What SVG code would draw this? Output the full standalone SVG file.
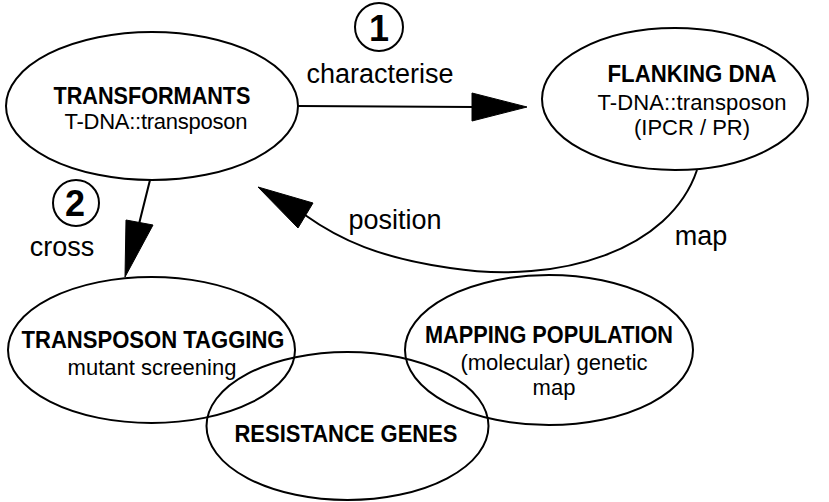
<svg xmlns="http://www.w3.org/2000/svg" width="829" height="502" viewBox="0 0 829 502">
<style>
  .shape { fill: none; stroke: #000; stroke-width: 2; }
  .line { fill: none; stroke: #000; stroke-width: 2; }
  .head { fill: #000; stroke: #000; stroke-width: 1; stroke-linejoin: miter; }
  .title { font-family: "Liberation Sans", Arial, sans-serif; font-weight: bold; font-size: 23px; text-anchor: middle; fill: #000; }
  .sub { font-family: "Liberation Sans", Arial, sans-serif; font-size: 22px; text-anchor: middle; fill: #000; }
  .edge { font-family: "Liberation Sans", Arial, sans-serif; font-size: 27px; text-anchor: middle; fill: #000; }
  .num { font-family: "Liberation Sans", Arial, sans-serif; font-weight: bold; font-size: 36px; text-anchor: middle; fill: #000; }
</style>
<rect width="829" height="502" fill="#fff"/>

<g id="connectors">
  <g id="edge-characterise">
    <line class="line" x1="298" y1="106" x2="474" y2="107"/>
    <polygon class="head" points="527,107 472,93 472,121"/>
    <circle class="shape" cx="379" cy="27" r="24"/>
    <text class="num" x="379" y="41">1</text>
    <text class="edge" x="380" y="83">characterise</text>
  </g>
  <g id="edge-cross">
    <line class="line" x1="150" y1="180" x2="139" y2="224"/>
    <polygon class="head" points="125,277 126,220 153,225"/>
    <circle class="shape" cx="76" cy="203" r="23"/>
    <text class="num" x="75" y="216">2</text>
    <text class="edge" x="62" y="256">cross</text>
  </g>
  <g id="edge-position">
    <path class="line" d="M697,170 C670,250 560,285 450,268 C380,258 340,240 305,215"/>
    <polygon class="head" points="258,187 313,203 298,228"/>
    <text class="edge" x="395" y="229">position</text>
    <text class="edge" x="701" y="245">map</text>
  </g>
</g>

<g id="transformants">
  <ellipse class="shape" cx="152" cy="106" rx="146" ry="74"/>
  <text class="title" x="152" y="104" textLength="197" lengthAdjust="spacingAndGlyphs">TRANSFORMANTS</text>
  <text class="sub" x="156" y="129" textLength="183">T-DNA::transposon</text>
</g>

<g id="flanking-dna">
  <ellipse class="shape" cx="675" cy="99" rx="133" ry="71"/>
  <text class="title" x="692" y="82" textLength="169" lengthAdjust="spacingAndGlyphs">FLANKING DNA</text>
  <text class="sub" x="692" y="110" textLength="189">T-DNA::transposon</text>
  <text class="sub" x="692" y="135">(IPCR / PR)</text>
</g>

<g id="transposon-tagging">
  <ellipse class="shape" cx="151.5" cy="350" rx="143.5" ry="73"/>
  <text class="title" x="153" y="348" textLength="263" lengthAdjust="spacingAndGlyphs">TRANSPOSON TAGGING</text>
  <text class="sub" x="152" y="375">mutant screening</text>
</g>

<g id="mapping-population">
  <ellipse class="shape" cx="549" cy="350" rx="144" ry="75"/>
  <text class="title" x="549" y="343" textLength="248" lengthAdjust="spacingAndGlyphs">MAPPING POPULATION</text>
  <text class="sub" x="554" y="370">(molecular) genetic</text>
  <text class="sub" x="554" y="395">map</text>
</g>

<g id="resistance-genes">
  <ellipse class="shape" cx="347.5" cy="426" rx="141" ry="74"/>
  <text class="title" x="346" y="442" textLength="223" lengthAdjust="spacingAndGlyphs">RESISTANCE GENES</text>
</g>
</svg>
